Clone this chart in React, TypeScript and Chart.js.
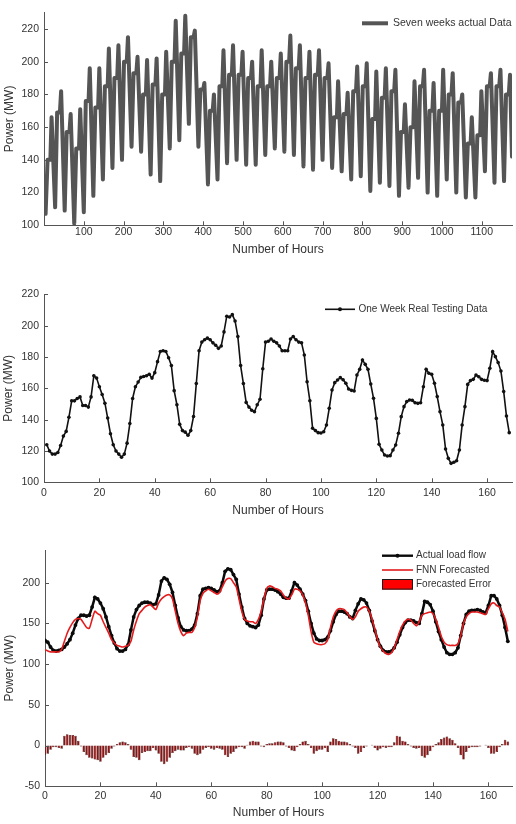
import { useEffect, useRef } from 'react';
import { Chart, registerables } from 'chart.js';

Chart.register(...registerables);

const FONT = '"Liberation Sans", Arial, Helvetica, sans-serif';
const TEXT = '#333333';
const AXIS = '#555555';

// ---- Seven weeks of hourly load, summarised per day (49 days) ----
const dailyLow = [107, 111, 109, 101, 108, 118, 128, 135, 140, 148, 145, 131, 127, 147, 152, 162, 148, 125, 128, 138, 140, 137, 137, 143, 147, 145, 143, 136, 134, 140, 135, 133, 128, 130, 121, 126, 124, 118, 123, 129, 120, 118, 128, 120, 117, 117, 133, 126, 127];
const dailyShoulder = [140, 169, 157, 147, 176, 172, 185, 190, 200, 193, 180, 186, 180, 200, 205, 215, 183, 170, 185, 192, 192, 190, 185, 185, 190, 200, 196, 190, 192, 190, 166, 168, 182, 185, 165, 178, 182, 157, 160, 185, 170, 170, 180, 175, 150, 155, 185, 185, 180];
const dailyPeak = [166, 182, 168, 171, 196, 196, 208, 210, 215, 203, 201, 202, 206, 225, 228, 219, 187, 180, 207, 210, 206, 200, 207, 200, 205, 216, 210, 206, 207, 199, 188, 181, 197, 199, 194, 196, 195, 174, 188, 195, 187, 195, 193, 180, 166, 182, 193, 195, 192];
const firstHourLoad = 124;
const lastHourLoad = 142;
const lastHour = 1176;
// hour of day at which each daily summary value applies
const lowHour = 4;
const shoulderHours = [9, 16];
const peakHour = 19;
const sevenWeekXTicks = [100, 200, 300, 400, 500, 600, 700, 800, 900, 1000, 1100];
const sevenWeekYTicks = [100, 120, 140, 160, 180, 200, 220];

// ---- One week of real testing data (hours 1..168) ----
const testWeekLoad = [
  124, 120, 118, 118, 119, 123.5, 129.5, 132.5, 141.5, 152, 152, 153.5, 154.5, 149, 149, 148, 154.5, 168, 166.5, 161,
  156, 150.5, 141, 131, 124, 120, 118, 116, 118, 125, 137.5, 153.5, 161, 164, 167, 167.5, 168, 169, 166.5, 170,
  177, 183.5, 184, 183.5, 179.5, 174.5, 158.5, 149.5, 137, 133, 132, 130, 133, 142, 163, 184, 189.5, 191, 192, 191,
  189, 187.5, 185.5, 187, 196, 206, 205.5, 207, 203, 193, 174.5, 163, 151, 148, 146, 145, 149.5, 153, 172.5, 189.5,
  190, 191.5, 190, 189, 187, 184, 184, 184, 191.5, 193, 191, 189.5, 189, 181.3, 164.2, 152.1, 134.5, 133, 131.7, 131.5,
  132.3, 136.6, 147.2, 158.9, 163.6, 165.3, 166.8, 165.5, 163.2, 159.6, 158.7, 158.3, 168.5, 172.1, 178.1, 175.3, 172.1, 162.7, 153.6, 140.8,
  124.3, 120.6, 117.4, 116.8, 117, 120.6, 123.8, 131.3, 141.9, 148.3, 151.5, 152.5, 152.3, 150.8, 150.4, 150.8, 161, 172.1, 169.6, 168.9,
  163.2, 154.7, 145.1, 136.6, 121.3, 115.3, 112.1, 112.8, 113.8, 120.6, 136.6, 148.3, 162.5, 164.9, 165.7, 168.5, 167.4, 165.7, 165.1, 164.9,
  172.8, 183.4, 180.2, 176.4, 171, 157.9, 142.3, 131.7,
];
const testWeekHours = testWeekLoad.map((_, i) => i + 1);
const weekXTicks = [0, 20, 40, 60, 80, 100, 120, 140, 160];
const weekYTicks = [100, 120, 140, 160, 180, 200, 220];

// ---- Forecast week (hours 0..167) ----
const actualLoad = [
  129, 127, 121, 117, 116, 117, 118, 121, 125, 130, 138, 148, 156, 160, 160, 159, 160, 170, 182, 180,
  175, 168, 158, 146, 135, 126, 119, 116, 116, 118, 124, 142, 158, 167, 172, 175, 176, 176, 175, 173,
  174, 185, 202, 206, 204, 198, 188, 172, 157, 146, 142, 141, 141, 143, 148, 162, 184, 192, 193, 194,
  193, 191, 189, 190, 200, 214, 217, 216, 210, 204, 186, 170, 156, 150, 147, 146, 145, 148, 160, 180,
  191, 192, 192, 191, 189, 186, 182, 181, 181, 190, 200, 197, 192, 186, 178, 165, 150, 138, 131, 129,
  129, 130, 133, 141, 152, 161, 165, 165, 164, 162, 158, 156, 166, 174, 180, 179, 175, 166, 153, 141,
  130, 122, 117, 115, 115, 116, 120, 127, 136, 145, 151, 154, 154, 153, 151, 150, 162, 177, 176, 173,
  165, 152, 140, 130, 121, 114, 112, 112, 114, 120, 135, 150, 161, 165, 166, 166, 167, 166, 164, 163,
  172, 184, 184, 180, 172, 160, 145, 128,
];
const fnnForecast = [
  118, 116, 115, 115, 115, 115, 118, 128, 138, 145, 151, 155, 156, 155, 150, 145, 144, 155, 165, 162,
  160, 152, 145, 138, 130, 126, 123, 122, 121, 122, 123, 128, 142, 153, 162, 166, 170, 172, 173, 170,
  167, 175, 180, 183, 185, 185, 180, 165, 150, 140, 135, 138, 139, 139, 145, 158, 178, 187, 190, 192,
  190, 188, 186, 188, 195, 202, 205, 205, 200, 195, 180, 165, 155, 153, 152, 152, 150, 155, 165, 180,
  193, 196, 195, 193, 192, 190, 185, 181, 180, 185, 192, 192, 190, 185, 175, 160, 140, 127, 125, 124,
  124, 125, 130, 145, 158, 165, 168, 168, 167, 163, 158, 155, 158, 165, 168, 170, 170, 165, 155, 143,
  130, 121, 116, 113, 112, 114, 120, 130, 140, 148, 153, 155, 154, 150, 147, 152, 160, 162, 163, 164,
  162, 155, 145, 134, 127, 124, 123, 123, 123, 125, 135, 150, 158, 162, 164, 164, 164, 163, 162, 161,
  168, 174, 175, 172, 170, 163, 155, 140,
];
const forecastError = [
  -11, -10, -5, -2, -2, -3, -4, 12, 14, 13, 13, 12, 6, -1, -8, -12, -15, -16, -17, -18,
  -20, -15, -12, -9, -4, -1, 2, 4, 5, 4, 2, -5, -14, -15, -18, -9, -8, -7, -7, -3,
  -6, -10, -20, -23, -20, -15, -9, -7, -5, -6, -6, -3, -2, -4, -10, -12, -10, -5, -3, -2,
  -4, -5, -3, -4, -5, -12, -14, -10, -8, -4, -2, -2, -4, 1, 5, 6, 5, 5, -1, -2,
  2, 3, 3, 4, 5, 5, 4, -1, -3, -6, -7, -2, 2, 5, 6, 2, -3, -10, -7, -5,
  -5, -3, -8, 5, 9, 8, 6, 5, 5, 4, 2, -1, -3, -10, -8, -3, -1, 0, 1, -3,
  -6, -4, -2, -3, -2, -2, 4, 12, 11, 6, 5, 2, -1, -3, -4, -3, -13, -15, -12, -7,
  -2, 2, 4, 8, 10, 11, 9, 7, 3, -3, -12, -17, -8, -3, -2, -2, -2, -1, 0, 1,
  -3, -10, -10, -8, -2, 2, 7, 5,
];
const forecastHours = actualLoad.map((_, i) => i);
const forecastXTicks = [0, 20, 40, 60, 80, 100, 120, 140, 160];
const forecastYTicks = [-50, 0, 50, 100, 150, 200];

type Pt = { x: number; y: number };
const pair = (xs: number[], ys: number[]): Pt[] => xs.map((x, i) => ({ x, y: ys[i] }));

function sevenWeekSeries(): Pt[] {
  const pts: Pt[] = [{ x: 1, y: firstHourLoad }];
  dailyLow.forEach((low, d) => {
    const base = d * 24;
    pts.push({ x: base + lowHour, y: low });
    shoulderHours.forEach((h) => pts.push({ x: base + h, y: dailyShoulder[d] }));
    pts.push({ x: base + peakHour, y: dailyPeak[d] });
  });
  pts.push({ x: lastHour, y: lastHourLoad });
  return pts;
}

// short tick marks pointing into the plot, on the left and bottom axes
const inwardTicks = {
  id: 'inwardTicks',
  afterDraw(chart: any) {
    const { ctx, chartArea, scales } = chart;
    ctx.save();
    ctx.strokeStyle = AXIS;
    ctx.lineWidth = 1;
    ctx.beginPath();
    scales.x.ticks.forEach((t: any) => {
      const px = Math.round(scales.x.getPixelForValue(t.value)) + 0.5;
      ctx.moveTo(px, chartArea.bottom);
      ctx.lineTo(px, chartArea.bottom - 4);
    });
    scales.y.ticks.forEach((t: any) => {
      const py = Math.round(scales.y.getPixelForValue(t.value)) + 0.5;
      ctx.moveTo(chartArea.left, py);
      ctx.lineTo(chartArea.left + 4, py);
    });
    ctx.stroke();
    ctx.restore();
  },
};

type LegendEntry = {
  label: string;
  kind: 'line' | 'marker' | 'box';
  color: string;
  width: number;
  y: number;
};

function makeLegend(x0: number, x1: number, textX: number, fontSize: number, entries: LegendEntry[]) {
  return {
    id: 'panelLegend',
    afterDraw(chart: any) {
      const ctx = chart.ctx;
      ctx.save();
      entries.forEach((e) => {
        if (e.kind === 'box') {
          ctx.fillStyle = e.color;
          ctx.fillRect(x0, e.y - 5.3, x1 - x0, 10.6);
          ctx.strokeStyle = '#1a1a1a';
          ctx.lineWidth = 1;
          ctx.strokeRect(x0 + 0.5, e.y - 5.3 + 0.5, x1 - x0 - 1, 10.6 - 1);
        } else {
          ctx.strokeStyle = e.color;
          ctx.lineWidth = e.width;
          ctx.lineCap = 'butt';
          ctx.beginPath();
          ctx.moveTo(x0, e.y);
          ctx.lineTo(x1, e.y);
          ctx.stroke();
          if (e.kind === 'marker') {
            ctx.fillStyle = e.color;
            ctx.beginPath();
            ctx.arc((x0 + x1) / 2, e.y, 2, 0, Math.PI * 2);
            ctx.fill();
          }
        }
        ctx.fillStyle = TEXT;
        ctx.font = `${fontSize}px ${FONT}`;
        ctx.textAlign = 'left';
        ctx.textBaseline = 'middle';
        ctx.fillText(e.label, textX, e.y);
      });
      ctx.restore();
    },
  };
}

type AxisCfg = {
  min: number;
  max: number;
  ticks: number[];
  size: number;
  labelPad: number;
  titlePad: number;
  title: string;
};

const plainNumber = (v: number | string) => String(v);

function xAxis(c: AxisCfg) {
  return {
    type: 'linear',
    position: 'bottom',
    offset: false,
    min: c.min,
    max: c.max,
    grid: { display: false, drawTicks: false, offset: false },
    border: { display: true, color: AXIS, width: 1 },
    ticks: {
      font: { family: FONT, size: 10.5 },
      color: TEXT,
      padding: c.labelPad,
      maxRotation: 0,
      autoSkip: false,
      callback: plainNumber,
    },
    afterBuildTicks: (s: any) => {
      s.ticks = c.ticks.map((v) => ({ value: v }));
    },
    afterFit: (s: any) => {
      s.height = c.size;
    },
    title: { display: true, text: c.title, font: { family: FONT, size: 12 }, color: TEXT, padding: { top: 0, bottom: c.titlePad } },
  };
}

function yAxis(c: AxisCfg) {
  return {
    type: 'linear',
    position: 'left',
    min: c.min,
    max: c.max,
    grid: { display: false, drawTicks: false },
    border: { display: true, color: AXIS, width: 1 },
    ticks: { font: { family: FONT, size: 10.5 }, color: TEXT, padding: c.labelPad, autoSkip: false, callback: plainNumber },
    afterBuildTicks: (s: any) => {
      s.ticks = c.ticks.map((v) => ({ value: v }));
    },
    afterFit: (s: any) => {
      s.width = c.size;
    },
    title: { display: true, text: c.title, font: { family: FONT, size: 12 }, color: TEXT, padding: { top: c.titlePad, bottom: 0 } },
  };
}

const basePlugins = { legend: { display: false }, tooltip: { enabled: false } };

function sevenWeekConfig(): any {
  return {
    type: 'line',
    data: {
      datasets: [
        {
          data: sevenWeekSeries(),
          borderColor: '#555555',
          borderWidth: 4,
          pointRadius: 0,
          tension: 0,
          borderJoinStyle: 'round',
          borderCapStyle: 'round',
        },
      ],
    },
    options: {
      responsive: false,
      animation: false,
      layout: { padding: { top: 12.6, right: 4, left: 0, bottom: 0 } },
      plugins: basePlugins,
      scales: {
        x: xAxis({ min: 0, max: lastHour, ticks: sevenWeekXTicks, size: 40.7, labelPad: 1, titlePad: 8.8, title: 'Number of Hours' }),
        y: yAxis({ min: 100, max: 230, ticks: sevenWeekYTicks, size: 44, labelPad: 5, titlePad: 2.8, title: 'Power (MW)' }),
      },
    },
    plugins: [
      inwardTicks,
      makeLegend(362, 388, 393, 10.5, [{ label: 'Seven weeks actual Data', kind: 'line', color: '#555555', width: 4, y: 23.3 }]),
    ],
  };
}

function testWeekConfig(): any {
  return {
    type: 'line',
    data: {
      datasets: [
        {
          data: pair(testWeekHours, testWeekLoad),
          borderColor: '#111111',
          borderWidth: 1.6,
          pointRadius: 1.8,
          pointBorderWidth: 0,
          pointBackgroundColor: '#111111',
          tension: 0,
        },
      ],
    },
    options: {
      responsive: false,
      animation: false,
      layout: { padding: { top: 28.3, right: 4, left: 0, bottom: 0 } },
      plugins: basePlugins,
      scales: {
        x: xAxis({ min: 0, max: 169, ticks: weekXTicks, size: 47.7, labelPad: 4.7, titlePad: 12.1, title: 'Number of Hours' }),
        y: yAxis({ min: 100, max: 220, ticks: weekYTicks, size: 44, labelPad: 5, titlePad: 1.8, title: 'Power (MW)' }),
      },
    },
    plugins: [
      inwardTicks,
      makeLegend(325, 355, 358.5, 10, [{ label: 'One Week Real Testing Data', kind: 'marker', color: '#111111', width: 1.6, y: 43.3 }]),
    ],
  };
}

function forecastConfig(): any {
  return {
    type: 'line',
    data: {
      datasets: [
        {
          type: 'bar',
          data: pair(forecastHours, forecastError),
          backgroundColor: '#8e1010',
          borderColor: '#2e0303',
          borderWidth: 0.5,
          barPercentage: 0.92,
          categoryPercentage: 1,
          order: 3,
        },
        {
          data: pair(forecastHours, fnnForecast),
          borderColor: '#e41a1c',
          borderWidth: 1.6,
          pointRadius: 0,
          tension: 0.2,
          order: 1,
        },
        {
          data: pair(forecastHours, actualLoad),
          borderColor: '#0a0a0a',
          borderWidth: 2.5,
          pointRadius: 1.9,
          pointBorderWidth: 0,
          pointBackgroundColor: '#0a0a0a',
          tension: 0,
          order: 2,
        },
      ],
    },
    options: {
      responsive: false,
      animation: false,
      layout: { padding: { top: 20.1, right: 4, left: 0, bottom: 0 } },
      plugins: basePlugins,
      scales: {
        x: xAxis({ min: 0, max: 168.5, ticks: forecastXTicks, size: 37.7, labelPad: 3.2, titlePad: 4.1, title: 'Number of Hours' }),
        y: yAxis({ min: -50, max: 240, ticks: forecastYTicks, size: 45, labelPad: 5, titlePad: 2.3, title: 'Power (MW)' }),
      },
    },
    plugins: [
      inwardTicks,
      makeLegend(382, 413, 416, 10, [
        { label: 'Actual load flow', kind: 'marker', color: '#0a0a0a', width: 2.4, y: 25.7 },
        { label: 'FNN Forecasted', kind: 'line', color: '#e41a1c', width: 1.6, y: 40 },
        { label: 'Forecasted Error', kind: 'box', color: '#ff0000', width: 1, y: 54.3 },
      ]),
    ],
  };
}

function Panel({ top, height, build }: { top: number; height: number; build: () => any }) {
  const ref = useRef<HTMLCanvasElement>(null);
  useEffect(() => {
    const chart = new Chart(ref.current as HTMLCanvasElement, build());
    return () => chart.destroy();
  }, []);
  return (
    <canvas
      ref={ref}
      width={516}
      height={height}
      style={{ position: 'absolute', left: 0, top, width: 516, height, display: 'block' }}
    />
  );
}

export default function App() {
  return (
    <div style={{ position: 'absolute', left: 0, top: 0, width: 516, height: 824, background: '#ffffff' }}>
      <Panel top={0} height={266} build={sevenWeekConfig} />
      <Panel top={266} height={264} build={testWeekConfig} />
      <Panel top={530} height={294} build={forecastConfig} />
    </div>
  );
}
